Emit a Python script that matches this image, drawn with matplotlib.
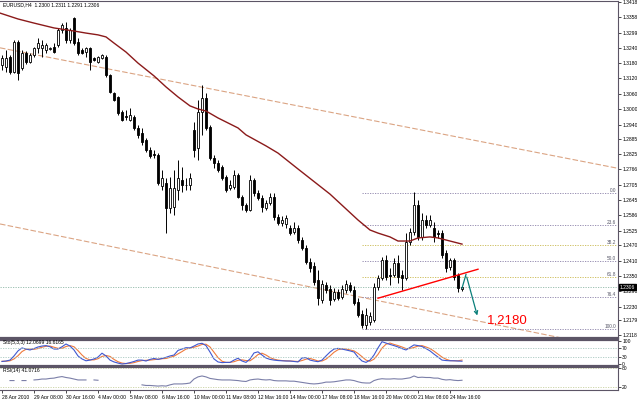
import numpy as np
import matplotlib.pyplot as plt

plt.rcParams['font.family'] = ['Liberation Sans', 'DejaVu Sans']

# === EURUSD H4, 28 Apr 2010 .. 25 May 2010 ===
opens = [1.3172, 1.3165, 1.3204, 1.3145, 1.3262, 1.3161, 1.3219, 1.3184, 1.3211, 1.3239,
         1.3239, 1.3231, 1.3235, 1.3243, 1.3250, 1.3309, 1.3317, 1.3270, 1.3356, 1.3262,
         1.3231, 1.3223, 1.3239, 1.3200, 1.3184, 1.3200, 1.3204, 1.3133, 1.3063, 1.3048,
         1.2989, 1.2974, 1.2958, 1.2970, 1.2927, 1.2907, 1.2880, 1.2841, 1.2825, 1.2821,
         1.2701, 1.2712, 1.2615, 1.2619, 1.2685, 1.2724, 1.2704, 1.2704, 1.2919, 1.2849,
         1.2989, 1.3044, 1.2931, 1.2810, 1.2790, 1.2775, 1.2736, 1.2693, 1.2697, 1.2743,
         1.2658, 1.2626, 1.2607, 1.2724, 1.2673, 1.2654, 1.2615, 1.2634, 1.2658, 1.2580,
         1.2556, 1.2552, 1.2537, 1.2521, 1.2537, 1.2490, 1.2459, 1.2404, 1.2389, 1.2334,
         1.2256, 1.2314, 1.2299, 1.2260, 1.2287, 1.2268, 1.2295, 1.2314, 1.2295, 1.2248,
         1.2201, 1.2158, 1.2170, 1.2178, 1.2307, 1.2342, 1.2412, 1.2353, 1.2353, 1.2400,
         1.2353, 1.2342, 1.2482, 1.2521, 1.2626, 1.2502, 1.2568, 1.2548, 1.2537, 1.2517,
         1.2517, 1.2439, 1.2385, 1.2412, 1.2353, 1.2300]
highs = [1.3211, 1.3231, 1.3211, 1.3270, 1.3270, 1.3231, 1.3227, 1.3219, 1.3243, 1.3278,
         1.3270, 1.3258, 1.3243, 1.3258, 1.3317, 1.3336, 1.3340, 1.3317, 1.3360, 1.3278,
         1.3239, 1.3243, 1.3243, 1.3204, 1.3208, 1.3215, 1.3211, 1.3137, 1.3067, 1.3052,
         1.2997, 1.2997, 1.3005, 1.2977, 1.2938, 1.2927, 1.2888, 1.2853, 1.2841, 1.2829,
         1.2763, 1.2732, 1.2736, 1.2763, 1.2802, 1.2775, 1.2732, 1.2751, 1.2950, 1.3036,
         1.3094, 1.3063, 1.2938, 1.2821, 1.2802, 1.2782, 1.2743, 1.2724, 1.2763, 1.2751,
         1.2665, 1.2634, 1.2743, 1.2732, 1.2685, 1.2665, 1.2646, 1.2673, 1.2673, 1.2591,
         1.2584, 1.2587, 1.2548, 1.2560, 1.2548, 1.2502, 1.2470, 1.2420, 1.2404, 1.2373,
         1.2334, 1.2326, 1.2314, 1.2303, 1.2299, 1.2314, 1.2334, 1.2326, 1.2311, 1.2264,
         1.2217, 1.2225, 1.2209, 1.2322, 1.2353, 1.2424, 1.2431, 1.2381, 1.2420, 1.2431,
         1.2373, 1.2517, 1.2537, 1.2677, 1.2646, 1.2595, 1.2587, 1.2587, 1.2560, 1.2529,
         1.2529, 1.2451, 1.2420, 1.2420, 1.2361, 1.2311]
lows = [1.3153, 1.3145, 1.3137, 1.3141, 1.3114, 1.3153, 1.3176, 1.3180, 1.3204, 1.3219,
        1.3204, 1.3219, 1.3231, 1.3219, 1.3243, 1.3297, 1.3258, 1.3258, 1.3250, 1.3211,
        1.3215, 1.3204, 1.3153, 1.3188, 1.3180, 1.3196, 1.3126, 1.3063, 1.3032, 1.2977,
        1.2954, 1.2958, 1.2954, 1.2919, 1.2888, 1.2860, 1.2833, 1.2810, 1.2810, 1.2704,
        1.2685, 1.2517, 1.2595, 1.2587, 1.2646, 1.2677, 1.2685, 1.2685, 1.2814, 1.2802,
        1.2900, 1.2919, 1.2802, 1.2771, 1.2755, 1.2724, 1.2677, 1.2685, 1.2689, 1.2654,
        1.2607, 1.2599, 1.2603, 1.2662, 1.2646, 1.2599, 1.2607, 1.2626, 1.2568, 1.2548,
        1.2545, 1.2537, 1.2510, 1.2513, 1.2478, 1.2451, 1.2396, 1.2365, 1.2314, 1.2236,
        1.2244, 1.2283, 1.2236, 1.2252, 1.2256, 1.2260, 1.2283, 1.2287, 1.2236, 1.2190,
        1.2147, 1.2143, 1.2158, 1.2170, 1.2295, 1.2334, 1.2334, 1.2314, 1.2346, 1.2322,
        1.2295, 1.2334, 1.2470, 1.2510, 1.2490, 1.2490, 1.2537, 1.2541, 1.2482, 1.2498,
        1.2420, 1.2365, 1.2373, 1.2334, 1.2287, 1.2291]
closes = [1.3200, 1.3200, 1.3145, 1.3262, 1.3141, 1.3219, 1.3184, 1.3211, 1.3239, 1.3258,
          1.3250, 1.3250, 1.3239, 1.3223, 1.3309, 1.3328, 1.3270, 1.3309, 1.3258, 1.3219,
          1.3219, 1.3239, 1.3184, 1.3192, 1.3204, 1.3211, 1.3133, 1.3067, 1.3036, 1.2985,
          1.2958, 1.2970, 1.2977, 1.2927, 1.2900, 1.2872, 1.2841, 1.2818, 1.2821, 1.2712,
          1.2732, 1.2615, 1.2693, 1.2693, 1.2732, 1.2704, 1.2705, 1.2732, 1.2841, 1.2989,
          1.3044, 1.2927, 1.2810, 1.2790, 1.2763, 1.2732, 1.2685, 1.2704, 1.2743, 1.2658,
          1.2626, 1.2607, 1.2724, 1.2673, 1.2654, 1.2619, 1.2634, 1.2658, 1.2580, 1.2556,
          1.2568, 1.2576, 1.2517, 1.2537, 1.2490, 1.2459, 1.2404, 1.2381, 1.2326, 1.2264,
          1.2318, 1.2295, 1.2256, 1.2287, 1.2264, 1.2299, 1.2318, 1.2295, 1.2244, 1.2197,
          1.2158, 1.2197, 1.2194, 1.2307, 1.2342, 1.2412, 1.2346, 1.2350, 1.2400, 1.2346,
          1.2342, 1.2482, 1.2521, 1.2626, 1.2502, 1.2568, 1.2548, 1.2568, 1.2502, 1.2513,
          1.2431, 1.2381, 1.2412, 1.2346, 1.2303, 1.2306]

# moving average read at some bars
ma_bars = [-0.5, 4, 8, 13, 18, 21, 24, 26, 28, 31, 34, 38, 41, 44, 47, 49, 51, 54, 59,
           61, 66, 69, 74, 82, 89, 92, 94, 97, 99, 102, 104, 107, 109, 112, 115]
ma_vals = [1.3375, 1.3352, 1.3336, 1.3317, 1.3305, 1.3297, 1.3290, 1.3282, 1.3258, 1.3223,
           1.3180, 1.3130, 1.3087, 1.3048, 1.3013, 1.3001, 1.2993, 1.2966, 1.2927, 1.2900,
           1.2857, 1.2829, 1.2767, 1.2669, 1.2568, 1.2529, 1.2517, 1.2502, 1.2486, 1.2486,
           1.2498, 1.2502, 1.2498, 1.2486, 1.2474]

stoch_k = [11, 13, 17, 35, 57, 70, 65, 61, 67, 74, 78, 80, 75, 65, 65, 75, 87, 78, 61, 35,
           22, 14, 17, 22, 30, 47, 35, 17, 9, 4, 0, 2, 6, 11, 17, 17, 13, 20, 24, 20,
           24, 29, 35, 39, 59, 65, 71, 70, 78, 87, 90, 80, 52, 22, 9, 6, 7, 7, 17, 25,
           13, 7, 22, 48, 53, 39, 26, 20, 17, 15, 14, 13, 13, 11, 9, 26, 28, 17, 13, 10,
           17, 35, 52, 65, 68, 65, 61, 57, 52, 30, 13, 7, 17, 39, 70, 97, 91, 85, 80, 74,
           67, 61, 72, 83, 80, 76, 67, 57, 43, 30, 17, 15, 14, 14, 13, 12]
stoch_d = [12, 12, 14, 22, 36, 54, 64, 65, 64, 67, 73, 77, 78, 73, 68, 68, 76, 80, 75, 58,
           39, 24, 18, 18, 23, 33, 37, 33, 20, 10, 4, 2, 3, 6, 11, 15, 16, 17, 19, 21,
           23, 24, 29, 34, 44, 54, 65, 69, 73, 78, 85, 86, 74, 51, 28, 12, 7, 7, 10, 16,
           18, 15, 14, 26, 41, 47, 39, 28, 21, 17, 15, 14, 13, 12, 11, 15, 21, 24, 19, 13,
           13, 21, 35, 51, 62, 66, 65, 61, 57, 46, 32, 17, 12, 21, 42, 69, 86, 91, 85, 80,
           74, 67, 67, 72, 78, 80, 74, 67, 56, 43, 30, 21, 15, 14, 14, 17]

nan = np.nan
rsi = [nan, nan, 40, 40, nan, 40, 40, nan, 42, 43, 45, 45, 47, 48, 51, 53, 50, 48, 45, 42,
       42, 42, nan, 42, 41, nan, nan, nan, nan, nan, nan, nan, nan, nan, nan, 26, 24, 24, 23, 22,
       23, 22, 26, 29, 29, 29, 30, 32, 45, 52, 55, 52, 47, 45, 43, 42, 42, 42, 41, 40,
       38, 37, 42, 44, 45, 43, 42, 43, 40, 39, 39, 39, 38, 38, 36, 34, 32, 30, 29, 30,
       32, 35, 35, 36, 38, 40, 42, 42, 40, 36, 33, 32, 32, 40, 44, 46, 45, 45, 46, 45,
       45, 47, 49, 55, 50, 51, 50, 50, 48, 48, 44, 42, 43, 41, 40, 41]

date_bars = [0, 8, 16, 24, 32, 40, 48, 56, 64, 72, 80, 88, 96, 104, 112]
date_labels = ['28 Apr 2010', '29 Apr 08:00', '30 Apr 16:00', '4 May 00:00', '5 May 08:00',
               '6 May 16:00', '10 May 00:00', '11 May 08:00', '12 May 16:00', '14 May 00:00',
               '17 May 08:00', '18 May 16:00', '20 May 00:00', '21 May 08:00', '24 May 16:00']
price_labels = ['1.3418', '1.3358', '1.3299', '1.3240', '1.3180', '1.3120', '1.3060', '1.3000',
                '1.2940', '1.2885', '1.2825', '1.2766', '1.2705', '1.2645', '1.2586', '1.2525',
                '1.2470', '1.2410', '1.2350', '1.2290', '1.2230', '1.2179', '1.2118']

fib_levels = [0.0, 23.6, 38.2, 50.0, 61.8, 76.4, 100.0]
fib_high, fib_low, fib_start = 1.2674, 1.2143, 90

upper_channel = [(0, 1.3238), (120, 1.2873)]
lower_channel = [(0, 1.2551), (120, 1.2171)]
support_x, support_y = [94, 119], [1.2263, 1.2376]
path_x, path_y = [115, 116, 119], [1.2302, 1.2356, 1.2185]
target_text = '1,2180'
last_price = 1.2306

# === FIGURE (pixel layout) ===
W, H = 637, 399
fig = plt.figure(figsize=(W / 100, H / 100), dpi=100)


def box(x0, y0, x1, y1):
    return [x0 / W, 1 - y1 / H, (x1 - x0) / W, (y1 - y0) / H]


frame = '#5c5566'
ax = fig.add_axes(box(0, 1, 618, 338))
ax_st = fig.add_axes(box(0, 339.5, 618, 365.5), sharex=ax)
ax_rsi = fig.add_axes(box(0, 366.5, 618, 390), sharex=ax)

for a in (ax, ax_st, ax_rsi):
    a.set_facecolor('white')
    a.spines['left'].set_visible(False)
    for s in ('top', 'right', 'bottom'):
        a.spines[s].set_color(frame)
        a.spines[s].set_linewidth(0.8)
    a.yaxis.tick_right()
    a.tick_params(axis='y', labelsize=3.6, length=2, width=0.5, pad=1, colors='black')
    a.tick_params(axis='x', bottom=False, labelbottom=False)
ax.spines['bottom'].set_linewidth(1.6)
ax_st.spines['top'].set_linewidth(1.6)
ax_st.spines['bottom'].set_linewidth(1.6)
ax_rsi.spines['top'].set_linewidth(1.6)

xs = np.arange(len(closes))
o = np.array(opens)
c = np.array(closes)
up = c >= o

# candles
ax.vlines(xs, lows, highs, color='black', lw=0.7, zorder=3)
ax.bar(xs, c - o, bottom=o, width=0.72, color=np.where(up, 'white', 'black'),
       edgecolor='black', linewidth=0.6, zorder=4)

# moving average
ax.plot(ma_bars, ma_vals, color='#8b1a1a', lw=1.0, zorder=5)

# channel lines
for line in (upper_channel, lower_channel):
    ax.axline(line[0], line[1], color='#dba483', lw=0.8, ls=(0, (5, 2)), zorder=2)

# fibonacci
for lvl in fib_levels:
    p = fib_high - (fib_high - fib_low) * lvl / 100
    col = '#c9b84e' if lvl in (38.2, 61.8) else '#8a80a8'
    ax.hlines(p, fib_start, 153.75, color=col, lw=0.6, ls=(0, (1.5, 1.5)), zorder=2)
    ax.text(153.5, p, f'{lvl:.1f}', fontsize=3.4, ha='right', va='bottom', color='#555566')

ax.axhline(last_price, color='#8fb8a8', lw=0.6, ls=(0, (1.5, 1.5)), zorder=2)

# drawings
ax.plot(support_x, support_y, color='red', lw=1.0, zorder=6)
ax.plot(path_x[:2], path_y[:2], color='#0a7f7a', lw=0.9, zorder=6)
ax.annotate('', xy=(path_x[2], path_y[2]), xytext=(path_x[1], path_y[1]),
            arrowprops=dict(arrowstyle='->', color='#0a7f7a', lw=0.9, mutation_scale=6),
            zorder=6)
ax.text(121.3, 1.2178, target_text, color='red', fontsize=9.5, ha='left', va='center')

ax.text(0.005, 0.995, 'EURUSD,H4  1.2300 1.2311 1.2291 1.2306', transform=ax.transAxes,
        fontsize=3.6, ha='left', va='top')

ax.set_xlim(-0.5, 154)
ax.set_ylim(1.21078, 1.34221)
ax.set_yticks([float(s) for s in price_labels])
ax.set_yticklabels(price_labels)
ax.text(1.003, last_price, f'{last_price:.4f}', transform=ax.get_yaxis_transform(),
        fontsize=3.6, color='white', va='center', ha='left',
        bbox=dict(boxstyle='square,pad=0.15', fc='black', ec='black'))

# stochastic
ax_st.plot(xs, stoch_d, color='#ef7a3c', lw=0.8)
ax_st.plot(xs, stoch_k, color='#4058d0', lw=0.8)
for lv in (70, 30):
    ax_st.axhline(lv, color='#a8c8c0', lw=0.6, ls=(0, (1.5, 1.5)))
ax_st.set_ylim(-6.5, 106.5)
ax_st.set_yticks([100, 70, 30, 0])
ax_st.text(0.005, 0.97, f'Sto(5,3,3) {12.0699:.4f} {16.6165:.4f}', transform=ax_st.transAxes,
           fontsize=3.6, ha='left', va='top')

# rsi
ax_rsi.plot(xs, rsi, color='#7b7fa8', lw=0.8)
for lv in (80, 20):
    ax_rsi.axhline(lv, color='#c8d0a0', lw=0.6, ls=(0, (1.5, 1.5)))
ax_rsi.set_ylim(9.2, 85.9)
ax_rsi.set_yticks([80, 20])
ax_rsi.text(0.005, 0.93, 'RSI(14) 41.0716', transform=ax_rsi.transAxes,
            fontsize=3.6, ha='left', va='top')

ax_rsi.tick_params(axis='x', bottom=True, labelbottom=True, labelsize=3.6, length=2,
                   width=0.5, pad=1.5)
ax_rsi.set_xticks(date_bars)
ax_rsi.set_xticklabels(date_labels, ha='left')

fig.savefig('out.png', dpi=100, facecolor='white')
